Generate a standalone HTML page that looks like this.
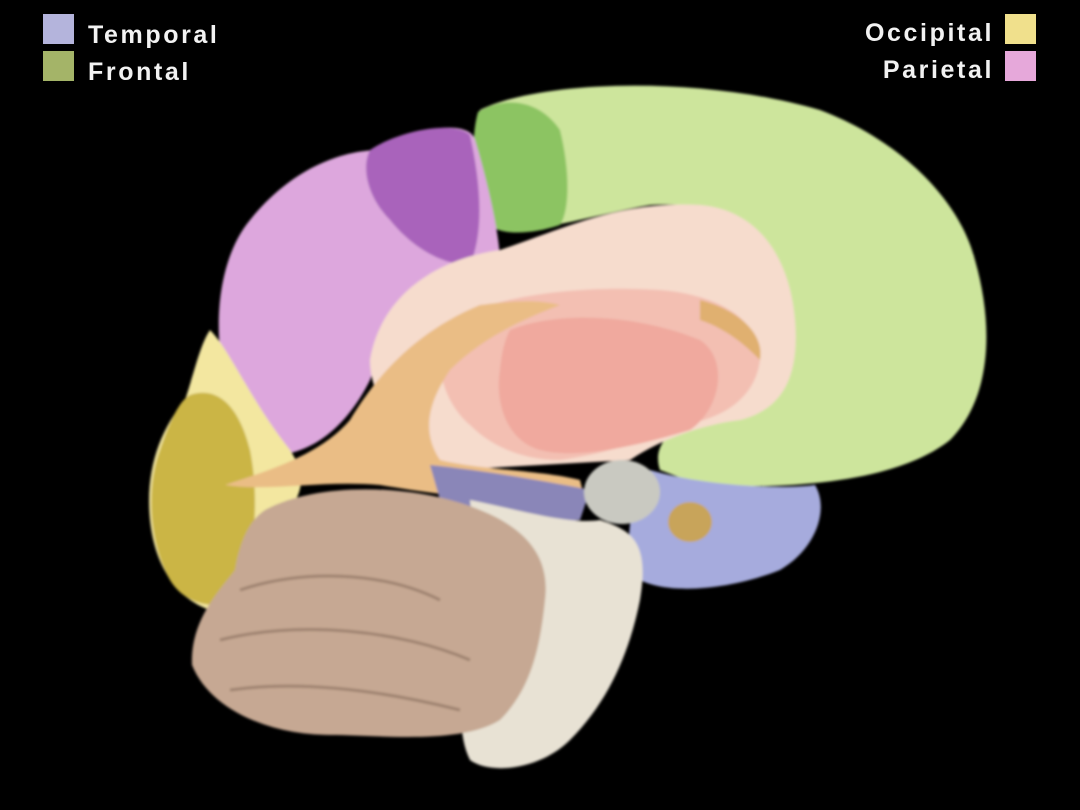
<!DOCTYPE html>
<html><head><style>
html,body{margin:0;padding:0;background:#000;}
body{width:1080px;height:810px;overflow:hidden;position:relative;font-family:"Liberation Sans",sans-serif;}
.lg{position:absolute;color:#f2f2f2;font-size:25px;letter-spacing:2.6px;line-height:1;font-weight:bold;}
.sq{position:absolute;width:31px;height:30px;}
svg{position:absolute;left:0;top:0;}
</style></head><body>
<svg width="1080" height="810" viewBox="0 0 1080 810">
<defs>
<filter id="b"><feGaussianBlur stdDeviation="1.2"/></filter>
</defs>
<g filter="url(#b)">
<path d="M480 110 C540 80 700 75 820 110 C900 140 960 200 975 260 C995 330 990 400 950 440 C900 480 800 490 700 485 L660 470 C650 440 680 420 720 415 C780 405 800 350 790 300 C770 230 720 200 650 205 C590 215 520 240 490 225 C470 190 470 140 480 110 Z" fill="#cde59c"/>
<path d="M478 112 C505 95 540 100 560 130 C570 170 570 210 560 225 C530 235 500 235 490 225 C472 190 470 140 478 112 Z" fill="#8cc462"/>
<path d="M650 470 C700 485 780 490 815 485 C830 510 815 550 780 570 C730 590 670 595 640 580 C620 550 630 500 650 470 Z" fill="#a6abdd"/>
<path d="M250 220 C290 170 340 150 380 150 C420 125 470 120 475 140 C490 190 500 240 500 260 C450 290 390 320 370 380 C350 420 320 450 280 455 C250 440 225 410 220 350 C215 300 225 250 250 220 Z" fill="#dda7dd"/>
<path d="M370 150 C400 130 455 120 470 135 C480 180 485 230 470 265 C440 265 410 245 390 220 C370 200 360 170 370 150 Z" fill="#a964bb"/>
<path d="M210 330 C230 350 250 400 290 450 C310 480 300 500 280 520 C260 560 240 600 210 610 C180 600 155 570 150 520 C145 470 160 430 185 400 C195 370 200 345 210 330 Z" fill="#f3e7a0"/>
<path d="M190 395 C220 385 240 410 250 450 C260 500 255 560 235 600 C215 610 185 605 170 580 C150 545 145 490 160 450 C170 420 180 400 190 395 Z" fill="#cbb545"/>
<path d="M370 360 C380 300 430 260 500 250 C560 230 620 200 700 205 C760 210 790 260 795 320 C800 380 780 410 740 420 C700 425 660 440 630 460 L450 470 C400 440 370 400 370 360 Z" fill="#f6dccd"/>
<path d="M450 320 C500 295 580 285 660 290 C720 295 760 320 760 360 C755 400 720 420 680 425 C650 440 600 455 560 460 C520 460 490 445 470 425 C440 400 430 350 450 320 Z" fill="#f3bfb2"/>
<path d="M510 330 C560 310 640 315 700 340 C730 360 720 410 690 430 C640 445 580 460 540 450 C505 440 495 400 500 370 C502 350 505 340 510 330 Z" fill="#f0a99e"/>
<path d="M225 485 C270 470 320 455 350 420 C380 370 420 330 480 305 C520 300 540 300 560 305 C520 320 480 340 450 370 C430 400 420 430 440 460 C480 470 540 470 580 480 L585 500 C520 505 440 495 380 485 C320 480 270 492 225 485 Z" fill="#eabd85"/>
<path d="M700 300 C740 310 765 335 760 360 C750 350 730 330 700 320 Z" fill="#e0b070"/>
<path d="M430 465 C480 470 540 480 590 490 L580 520 C530 525 470 515 440 500 Z" fill="#8a86b8"/>
<path d="M470 500 C520 510 570 525 600 520 C630 530 650 540 640 600 C630 650 610 700 570 740 C540 770 490 775 470 760 C450 720 470 660 480 600 Z" fill="#e8e2d4"/>
<ellipse cx="622" cy="492" rx="38" ry="32" fill="#c9c9c1"/>
<ellipse cx="690" cy="522" rx="22" ry="20" fill="#c8a45a"/>
<path d="M265 510 C320 480 420 485 480 510 C530 530 550 560 545 600 C540 650 530 690 500 720 C460 745 380 735 330 735 C270 735 210 710 192 665 C190 620 220 590 235 570 C240 540 250 520 265 510 Z" fill="#c6a893"/>
<path d="M240 590 C300 570 380 570 440 600 M220 640 C300 620 400 630 470 660 M230 690 C300 680 380 690 460 710" stroke="#9e8270" stroke-width="3" fill="none"/>
</g>
</svg>
<div class="sq" style="left:43px;top:14px;background:#b4b4dc"></div>
<div class="sq" style="left:43px;top:51px;background:#a4b468"></div>
<div class="lg" style="left:88px;top:23px">Temporal</div>
<div class="lg" style="left:88px;top:60px">Frontal</div>
<div class="sq" style="left:1005px;top:14px;background:#f0e08c"></div>
<div class="sq" style="left:1005px;top:51px;background:#e6a8da"></div>
<div class="lg" style="right:86px;top:21px">Occipital</div>
<div class="lg" style="right:86px;top:58px">Parietal</div>
</body></html>
